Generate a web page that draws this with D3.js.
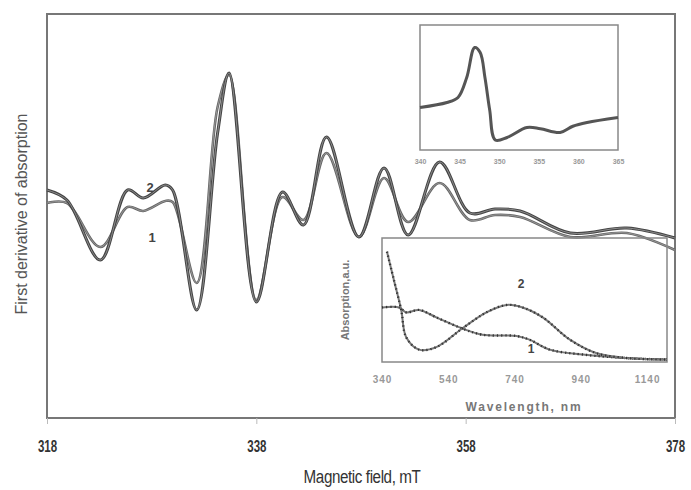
<!DOCTYPE html>
<html>
<head>
<meta charset="utf-8">
<script src="https://cdn.jsdelivr.net/npm/d3@7"></script>
<style>
  body { margin: 0; background: #fff; }
  svg { display: block; }
  text { font-family: "Liberation Sans", Arial, sans-serif; }
</style>
</head>
<body>
<svg id="chart" width="691" height="490"></svg>
<script>
// main EPR spectra (magnetic field, mT)
const fieldMain = [318.0, 319.9, 323.1, 325.7, 327.2, 329.3, 330.0, 332.3, 334.3, 335.4, 338.0, 340.5, 342.5, 344.7, 347.8, 350.2, 352.5, 355.5, 358.4, 360.8, 363.2, 368.0, 373.4, 378.0];
const curve2 = [1.5, 0.5, -5.5, 1.5, 0.7, 2.0, 1.5, -10.5, 7.2, 13.2, -9.7, 1.3, -2.0, 6.8, -3.2, 3.7, -3.0, 4.3, -0.8, -0.4, -0.6, -2.8, -2.3, -3.3];
const curve1 = [0.2, 0.2, -4.2, -0.2, -0.6, 0.4, 0.3, -7.8, 9.8, 13.0, -9.5, 0.8, -1.5, 5.2, -3.2, 2.7, -1.7, 2.2, -1.5, -1.0, -1.2, -3.2, -2.8, -4.5];
const fieldTicks = [318, 338, 358, 378];

// upper inset spectrum
const insetField = [340.0, 343.4, 344.8, 345.9, 346.9, 347.6, 348.2, 348.8, 349.5, 351.0, 353.5, 355.2, 357.7, 359.3, 361.1, 365.0];
const insetSignal = [0.34, 0.38, 0.42, 0.58, 0.82, 0.78, 0.58, 0.32, 0.08, 0.10, 0.18, 0.17, 0.14, 0.19, 0.22, 0.26];
const insetTicks = [340, 345, 350, 355, 360, 365];

// lower inset: optical absorption
const wl2 = [355, 376, 398, 413, 452, 504, 582, 655, 716, 764, 825, 907, 988, 1088, 1200];
const abs2 = [0.89, 0.66, 0.42, 0.20, 0.10, 0.12, 0.27, 0.40, 0.46, 0.44, 0.36, 0.18, 0.07, 0.03, 0.02];
const wl1 = [340, 392, 413, 452, 504, 582, 643, 746, 785, 846, 946, 1088, 1200];
const abs1 = [0.44, 0.44, 0.40, 0.42, 0.36, 0.27, 0.22, 0.21, 0.18, 0.10, 0.06, 0.03, 0.02];
const wlTicks = [340, 540, 740, 940, 1140];

const svg = d3.select('#chart');

// ---- main panel
const box = {left: 47, top: 14, right: 675, bottom: 418};
const x = d3.scaleLinear().domain([318, 378]).range([box.left, box.right]);
const y = d3.scaleLinear().domain([-21.3, 19.1]).range([box.bottom, box.top]);

svg.append('rect')
  .attr('x', box.left).attr('y', box.top)
  .attr('width', box.right - box.left).attr('height', box.bottom - box.top)
  .attr('fill', 'none').attr('stroke', '#777').attr('stroke-width', 2);

const xAxis = svg.append('g')
  .attr('transform', `translate(0,${box.bottom})`)
  .call(d3.axisBottom(x).tickValues(fieldTicks).tickSize(6).tickPadding(17).tickFormat(d3.format('d')));
xAxis.select('.domain').remove();
xAxis.selectAll('line').attr('stroke', '#bbb');
// squeeze tick labels like the condensed font of the original
xAxis.selectAll('text')
  .attr('fill', '#333').attr('font-size', 16).attr('font-weight', 'bold')
  .attr('transform', 'scale(0.72,1)');

svg.append('text')
  .attr('transform', 'translate(362,483) scale(0.8,1)')
  .attr('text-anchor', 'middle')
  .attr('font-size', 19).attr('fill', '#333')
  .attr('letter-spacing', -0.5)
  .text('Magnetic field, mT');

svg.append('text')
  .attr('transform', 'translate(27,214) rotate(-90)')
  .attr('text-anchor', 'middle')
  .attr('font-size', 16).attr('fill', '#555')
  .text('First derivative of absorption');

const mainLine = vals => d3.line()
  .x((d, i) => x(fieldMain[i]))
  .y(d => y(d))
  .curve(d3.curveCatmullRom.alpha(0.5))(vals);

[[curve1, '#666', 2.6], [curve2, '#444', 3]].forEach(([vals, col, w]) => {
  svg.append('path').attr('d', mainLine(vals))
    .attr('fill', 'none').attr('stroke', col).attr('stroke-width', w)
    .attr('stroke-linejoin', 'round');
  svg.append('path').attr('d', mainLine(vals))
    .attr('fill', 'none').attr('stroke', '#aaa').attr('stroke-width', 0.7);
});

svg.append('text').attr('x', 150).attr('y', 192)
  .attr('text-anchor', 'middle').attr('font-size', 13).attr('font-weight', 'bold').attr('fill', '#444')
  .text('2');
svg.append('text').attr('x', 152).attr('y', 242)
  .attr('text-anchor', 'middle').attr('font-size', 13).attr('font-weight', 'bold').attr('fill', '#444')
  .text('1');

// ---- upper inset
const ti = {left: 420, top: 25, right: 618, bottom: 150};
const xi = d3.scaleLinear().domain([340, 365]).range([ti.left, ti.right]);
const yi = d3.scaleLinear().domain([0, 1]).range([ti.bottom, ti.top]);

svg.append('rect')
  .attr('x', ti.left).attr('y', ti.top)
  .attr('width', ti.right - ti.left).attr('height', ti.bottom - ti.top)
  .attr('fill', 'none').attr('stroke', '#888').attr('stroke-width', 1.5);

const insetAxis = svg.append('g')
  .attr('transform', `translate(0,${ti.bottom})`)
  .call(d3.axisBottom(xi).tickValues(insetTicks).tickSize(0).tickPadding(9));
insetAxis.select('.domain').remove();
insetAxis.selectAll('text').attr('fill', '#999').attr('font-size', 7).attr('font-weight', 'bold');

svg.append('path')
  .attr('d', d3.line()
    .x((d, i) => xi(insetField[i]))
    .y(d => yi(d))
    .curve(d3.curveCatmullRom.alpha(0.5))(insetSignal))
  .attr('fill', 'none').attr('stroke', '#555').attr('stroke-width', 3)
  .attr('stroke-linejoin', 'round');

// ---- lower inset
const bi = {left: 382, top: 238, right: 667, bottom: 362};
const xw = d3.scaleLinear().domain([340, 1200]).range([bi.left, bi.right]);
const ya = d3.scaleLinear().domain([0, 1]).range([bi.bottom, bi.top]);

svg.append('rect')
  .attr('x', bi.left).attr('y', bi.top)
  .attr('width', bi.right - bi.left).attr('height', bi.bottom - bi.top)
  .attr('fill', 'none').attr('stroke', '#888').attr('stroke-width', 1.5);

const wlAxis = svg.append('g')
  .attr('transform', `translate(0,${bi.bottom})`)
  .call(d3.axisBottom(xw).tickValues(wlTicks).tickSize(0).tickPadding(14).tickFormat(d3.format('d')));
wlAxis.select('.domain').remove();
wlAxis.selectAll('text').attr('fill', '#999').attr('font-size', 10).attr('font-weight', 'bold')
  .attr('letter-spacing', 1);

svg.append('text')
  .attr('x', 524).attr('y', 411)
  .attr('text-anchor', 'middle')
  .attr('font-size', 12).attr('font-weight', 'bold').attr('fill', '#777')
  .attr('letter-spacing', 1.8)
  .text('Wavelength, nm');

svg.append('text')
  .attr('transform', 'translate(349,300) rotate(-90)')
  .attr('text-anchor', 'middle')
  .attr('font-size', 11).attr('font-weight', 'bold').attr('fill', '#777')
  .text('Absorption,a.u.');

[[wl1, abs1], [wl2, abs2]].forEach(([wl, ab]) => {
  const d = d3.line()
    .x((v, i) => xw(wl[i]))
    .y(v => ya(v))
    .curve(d3.curveCatmullRom.alpha(0.5))(ab);
  svg.append('path').attr('d', d)
    .attr('fill', 'none').attr('stroke', '#777').attr('stroke-width', 2);
  svg.append('path').attr('d', d)
    .attr('fill', 'none').attr('stroke', '#333').attr('stroke-width', 2.4)
    .attr('stroke-dasharray', '1.2,3');
});

svg.append('text').attr('x', 521).attr('y', 288)
  .attr('text-anchor', 'middle').attr('font-size', 12).attr('font-weight', 'bold').attr('fill', '#444')
  .text('2');
svg.append('text').attr('x', 531).attr('y', 353)
  .attr('text-anchor', 'middle').attr('font-size', 12).attr('font-weight', 'bold').attr('fill', '#444')
  .text('1');
</script>
</body>
</html>
